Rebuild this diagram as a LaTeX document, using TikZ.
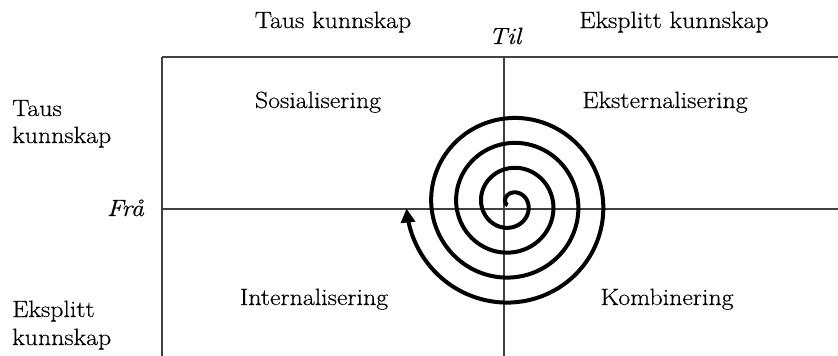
\documentclass[tikz,border=0pt]{standalone}
\usepackage{fontspec}
\setmainfont{Latin Modern Roman}[FakeStretch=1.1,FakeBold=0.4]
\usetikzlibrary{arrows.meta}
\begin{document}
\begin{tikzpicture}[x=1pt,y=-1pt,
  lbl/.style={inner sep=0pt,anchor=base,font=\fontsize{23.5}{28}\selectfont},
  lblit/.style={lbl,font=\fontsize{23.5}{28}\selectfont\itshape},
  gridline/.style={line width=1.1pt,draw=black!75},
  spiral/.style={line width=4pt,line cap=butt,-{Triangle[length=14pt,width=14pt]}}]
\useasboundingbox (0,0) rectangle (838,356);
% frame coordinates
\coordinate (tl) at (162,57);
\coordinate (tr) at (838,57);
\coordinate (bl) at (162,356);
\coordinate (mt) at (504,57);
\coordinate (mb) at (504,356);
\coordinate (ml) at (162,209);
\coordinate (mr) at (838,209);
\draw[gridline] (tl) -- (tr);
\draw[gridline] (tl) -- (bl);
\draw[gridline] (mt) -- (mb);
\draw[gridline] (ml) -- (mr);
% labels
\node[lbl] (ttaus) at (333,28) {Taus kunnskap};
\node[lbl] (teks) at (674,28) {Eksplitt kunnskap};
\node[lblit] (til) at (505,44) {Til};
\node[lblit,anchor=base east] (fra) at (144,216) {Frå};
\node[lbl,anchor=base west] (ltaus) at (12,116) {Taus};
\node[lbl,anchor=base west] (ltausk) at (12,143) {kunnskap};
\node[lbl,anchor=base west] (leks) at (12,317) {Eksplitt};
\node[lbl,anchor=base west] (leksk) at (12,345) {kunnskap};
\node[lbl] (sos) at (318,108) {Sosialisering};
\node[lbl] (ext) at (665,108) {Eksternalisering};
\node[lbl] (int) at (314,305) {Internalisering};
\node[lbl] (kom) at (667,305) {Kombinering};
% spiral
\draw[spiral] plot[domain=-0.3:3.75,samples=500,variable=\s]
  ({511+(11+25*\s)*cos(90-360*\s)},{204-(11+25*\s)*sin(90-360*\s)});
\end{tikzpicture}
\end{document}
